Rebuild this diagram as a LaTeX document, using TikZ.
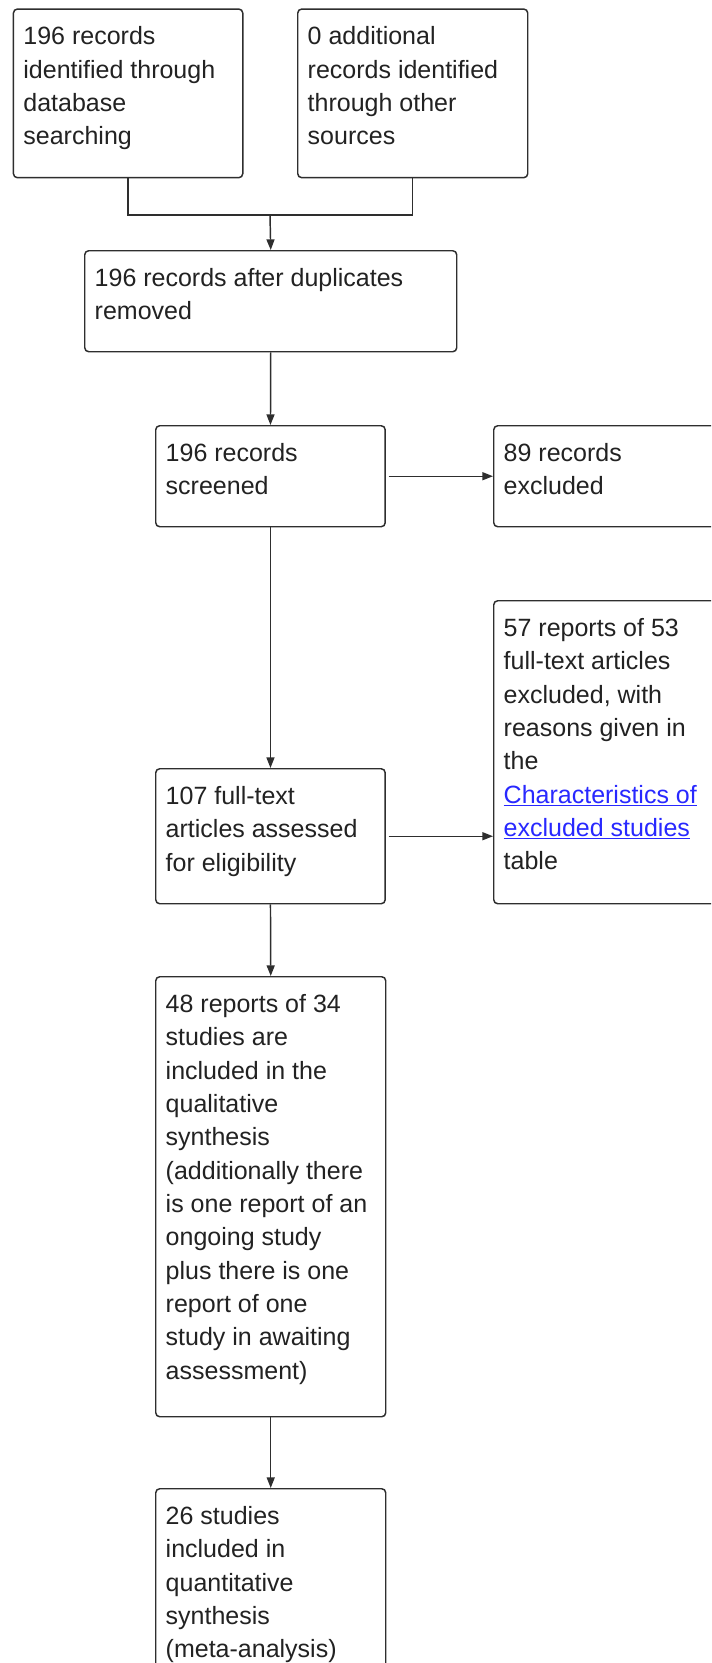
\documentclass[tikz,border=0pt]{standalone}
\usepackage{fontspec}
\setmainfont{Liberation Sans}
\usetikzlibrary{arrows.meta,calc}
\definecolor{ln}{HTML}{2E2E2E}
\definecolor{tx}{HTML}{222222}
\definecolor{lk}{HTML}{2828FF}
\newcommand{\bxt}[3]{\parbox[c][#1][t]{#2}{\rule{0pt}{26.8pt}#3}}
\begin{document}
\begin{tikzpicture}[x=0.75pt,y=-0.75pt,
  box/.style={draw=ln, line width=1.1pt, rounded corners=3pt, anchor=north west,
    inner xsep=7.5pt, inner ysep=0pt, font=\fontsize{18.75pt}{25pt}\selectfont, text=tx},
  arr/.style={draw=ln, line width=1.1pt, -{Triangle[length=8pt,width=6pt]}},
  conn/.style={draw=ln, line width=1.1pt}]
\path[use as bounding box] (0,0) rectangle (711,1663);
\clip (0,0) rectangle (711,1663);
\fill[white] (0,0) rectangle (711,1663);

\node[box] (A) at (12.7,8.3) {\bxt{126.5pt}{157pt}{196 records\\identified through\\database\\searching}};
\node[box] (B) at (297,8.3) {\bxt{126.5pt}{157.5pt}{0 additional\\records identified\\through other\\sources}};
\node[box] (C) at (84,250) {\bxt{75.75pt}{264pt}{196 records after duplicates\\removed}};
\node[box] (D) at (155,425) {\bxt{75.75pt}{157.1pt}{196 records\\screened}};
\node[box] (E) at (493,425) {\bxt{75.75pt}{157.5pt}{89 records\\excluded}};
\node[box] (F) at (155,768) {\bxt{101.25pt}{157.1pt}{107 full-text\\articles assessed\\for eligibility}};
\node[box] (G) at (493,600) {\bxt{227.25pt}{157.5pt}{57 reports of 53\\full-text articles\\excluded, with\\reasons given in\\the\\\textcolor{lk}{\underline{Characteristics of}}\\\textcolor{lk}{\underline{excluded studies}}\\table}};
\node[box] (H) at (155,976) {\bxt{330pt}{157.5pt}{48 reports of 34\\studies are\\included in the\\qualitative\\synthesis\\(additionally there\\is one report of an\\ongoing study\\plus there is one\\report of one\\study in awaiting\\assessment)}};
\node[box] (I) at (155,1488) {\bxt{156pt}{157.5pt}{26 studies\\included in\\quantitative\\synthesis\\(meta-analysis)}};

\coordinate (J) at (270,215);
\draw[conn] (A.south) |- (J) -| (B.south);
\draw[arr] (J) -- (C.north);
\draw[arr] (C.south) -- (D.north);
\draw[arr] (D.south) -- (F.north);
\draw[arr] (F.south) -- (H.north);
\draw[arr] (H.south) -- (I.north);
\draw[arr, shorten <=2pt] (D.east) -- (E.west);
\draw[arr, shorten <=2pt] (F.east) -- (F.east -| G.west);
\end{tikzpicture}
\end{document}
